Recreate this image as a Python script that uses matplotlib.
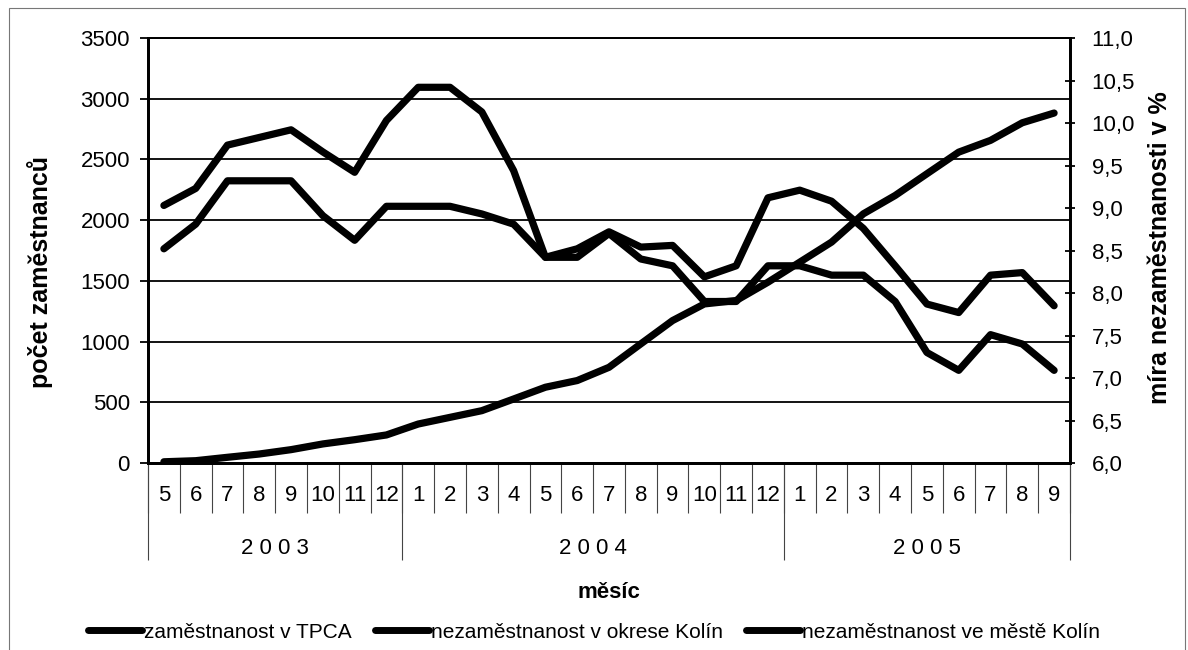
import matplotlib
matplotlib.use("Agg")
import matplotlib.pyplot as plt
import matplotlib.transforms as mtransforms
from matplotlib.ticker import FuncFormatter

years = ["2003", "2004", "2005"]
months = [
    ["5", "6", "7", "8", "9", "10", "11", "12"],
    ["1", "2", "3", "4", "5", "6", "7", "8", "9", "10", "11", "12"],
    ["1", "2", "3", "4", "5", "6", "7", "8", "9"],
]

# zaměstnanost v TPCA (levá osa)
tpca = [10, 19, 47, 74, 110, 157, 192, 231, 321, 376, 431, 527, 624, 679,
        788, 981, 1173, 1310, 1338, 1489, 1654, 1819, 2052, 2203, 2382,
        2560, 2657, 2802, 2882]
# nezaměstnanost v okrese Kolín (pravá osa, %)
okres = [8.52, 8.81, 9.32, 9.32, 9.32, 8.91, 8.62, 9.02, 9.02, 9.02, 8.93,
         8.81, 8.42, 8.42, 8.70, 8.40, 8.32, 7.90, 7.90, 8.32, 8.32, 8.21,
         8.21, 7.90, 7.30, 7.09, 7.51, 7.40, 7.09]
# nezaměstnanost ve městě Kolín (pravá osa, %)
mesto = [9.03, 9.23, 9.74, 9.83, 9.92, 9.66, 9.42, 10.03, 10.42, 10.42,
         10.13, 9.44, 8.42, 8.52, 8.72, 8.54, 8.56, 8.19, 8.32, 9.12, 9.21,
         9.08, 8.76, 8.32, 7.87, 7.77, 8.21, 8.24, 7.85]

plt.rcParams["font.family"] = ["Liberation Sans", "DejaVu Sans"]

month_labels = [m for ms in months for m in ms]
n = len(month_labels)
xs = [i + 0.5 for i in range(n)]

fig = plt.figure(figsize=(11.88, 6.5), dpi=100)
ax = fig.add_axes([148 / 1188, 1 - 463 / 650, 922 / 1188, 425 / 650])
ax2 = ax.twinx()

lw = 5.2
style = dict(color="black", lw=lw, solid_capstyle="round", solid_joinstyle="round")
l1, = ax.plot(xs, tpca, zorder=3, **style)
l2, = ax2.plot(xs, okres, **style)
l3, = ax2.plot(xs, mesto, **style)

ax.set_xlim(0, n)
ax.set_ylim(0, 3500)
ax.set_yticks(range(0, 3501, 500))
ax.yaxis.grid(True, color="black", lw=1.3)
ax.set_axisbelow(True)
ax2.set_ylim(6, 11)
ax2.set_yticks([6 + 0.5 * k for k in range(11)])
ax2.yaxis.set_major_formatter(FuncFormatter(lambda v, p: f"{v:.1f}".replace(".", ",")))

for a in (ax, ax2):
    for s in a.spines.values():
        s.set_linewidth(2)
        s.set_color("black")
ax2.spines["top"].set_linewidth(1.3)
ax.spines["top"].set_linewidth(1.3)

ax.tick_params(axis="y", labelsize=16, length=6, width=1.3, pad=7)
ax2.tick_params(axis="y", labelsize=16, length=7, width=1.3, pad=12,
                direction="inout")

# category boundaries and month labels
ax.set_xticks(range(n + 1))
ax.set_xticklabels([])
ax.tick_params(axis="x", which="major", length=36, width=0.8, color="#444444")
ax.set_xticks(xs, minor=True)
ax.set_xticklabels(month_labels, minor=True, fontsize=16)
ax.tick_params(axis="x", which="minor", length=0, pad=16)

# year separators and labels
trans = mtransforms.blended_transform_factory(ax.transData, ax.transAxes)
edges = [0]
for ms in months:
    edges.append(edges[-1] + len(ms))
ax.vlines(edges, -0.228, 0, transform=trans, color="#444444", lw=0.8,
          clip_on=False)
for k, yr in enumerate(years):
    ax.text((edges[k] + edges[k + 1]) / 2, -0.2, " ".join(yr), transform=trans,
            ha="center", va="center", fontsize=16)

ax.text(0.5, -0.305, "měsíc", transform=ax.transAxes, ha="center",
        va="center", fontsize=16, fontweight="bold")
fig.text(40 / 1188, 1 - 272 / 650, "počet zaměstnanců", rotation=90,
         ha="center", va="center", fontsize=18, fontweight="bold")
fig.text(1160 / 1188, 1 - 248 / 650, "míra nezaměstnanosti v %", rotation=90,
         ha="center", va="center", fontsize=18, fontweight="bold")

leg = fig.legend([l1, l2, l3],
                 ["zaměstnanost v TPCA", "nezaměstnanost v okrese Kolín",
                  "nezaměstnanost ve městě Kolín"],
                 loc="center", bbox_to_anchor=(0.5, 1 - 632 / 650), ncol=3,
                 frameon=False, handlelength=2.6, handletextpad=0.1,
                 columnspacing=1.1, prop={"size": 15})
for h in leg.legend_handles:
    h.set_linewidth(5)

# outer frame
frame = plt.Rectangle((9 / 1188, -0.01), 1176 / 1188, 1 - 8 / 650 + 0.01,
                      transform=fig.transFigure, fill=False, lw=0.8,
                      edgecolor="#777777")
fig.patches.append(frame)

fig.savefig("out.png", dpi=100)
